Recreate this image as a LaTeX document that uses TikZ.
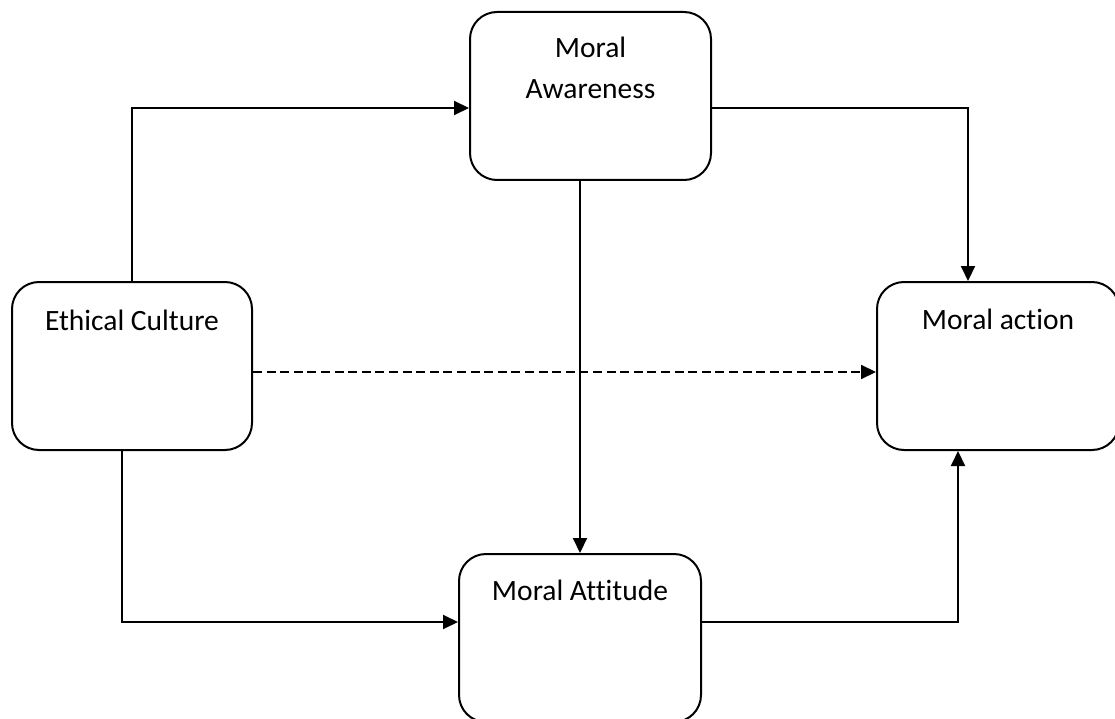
\documentclass[tikz,border=0pt]{standalone}
\usepackage{fontspec}
\setmainfont[Ligatures={NoCommon}]{Carlito}
\usetikzlibrary{arrows.meta,calc}
\tikzset{
  box/.style={draw, line width=2pt, rounded corners=27pt, minimum width=240pt, minimum height=168pt, inner sep=0pt},
  lbl/.style={anchor=base, align=center, font=\fontsize{29.5}{41}\selectfont, inner sep=0pt},
  conn/.style={line width=2pt, -{Triangle[length=15pt,width=14pt]}},
  dashconn/.style={conn, dash pattern=on 9pt off 4.6pt},
}
\begin{document}
\begin{tikzpicture}[x=1pt,y=-1pt]
\useasboundingbox (0,0) rectangle (1115,719);
\node[box] (ec) at (132,366) {};
\node[box, minimum width=241pt] (ma) at (590.5,96) {};
\node[box, minimum width=242pt] (mact) at (998,366) {};
\node[box, minimum width=242pt] (matt) at (580,638) {};
\node[lbl] (ect) at (132,330) {Ethical Culture};
\node[lbl] (mat) at (590.5,99) {Moral\\Awareness};
\node[lbl] (mactt) at (998,329) {Moral action};
\node[lbl] (mattt) at (580,600) {Moral Attitude};
% connectors
\draw[conn] (ec.north) |- ($(ma.west)+(0,12)$);
\draw[conn] ($(ma.east)+(0,12)$) -| ($(mact.north)+(-30,0)$);
\draw[conn] (matt.north |- ma.south) -- (matt.north);
\draw[dashconn] ($(ec.east)+(0,6)$) -- ($(mact.west)+(0,6)$);
\draw[conn] ($(ec.south)+(-10,0)$) |- ($(matt.west)+(0,-16)$);
\draw[conn] ($(matt.east)+(0,-16)$) -| ($(mact.south)+(-40,0)$);
\end{tikzpicture}
\end{document}
